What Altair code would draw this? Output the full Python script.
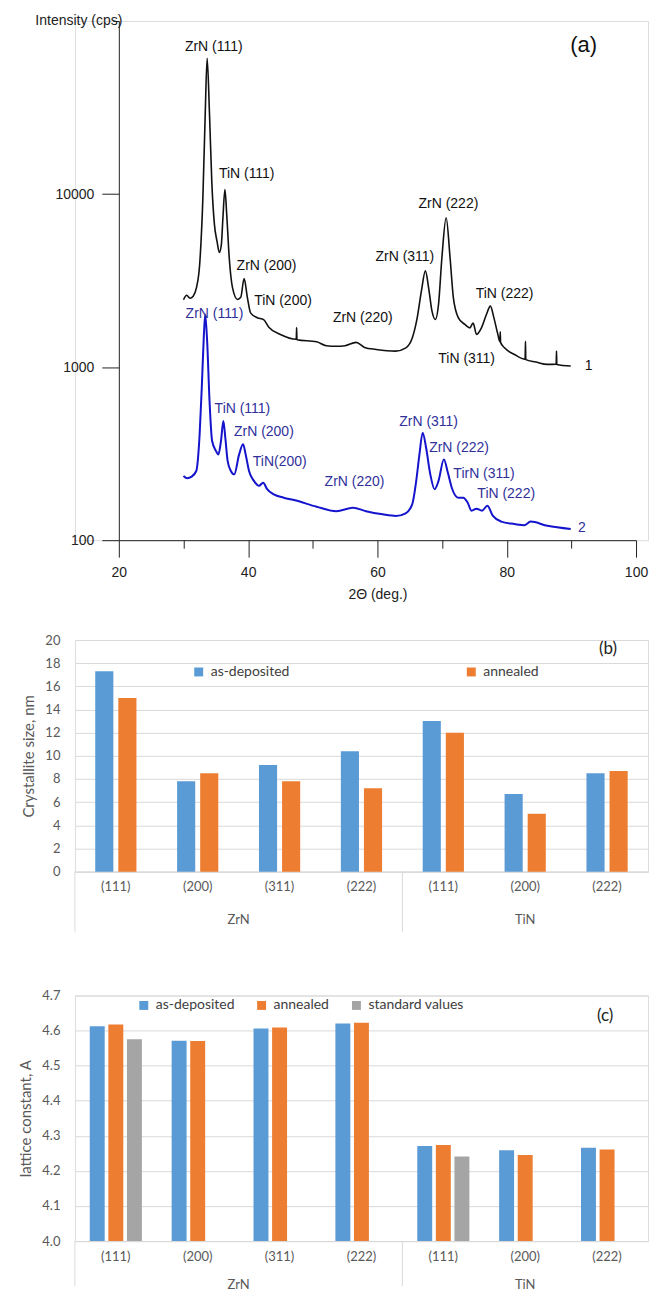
import altair as alt
import pandas as pd

# ---------------- Panel (a): XRD patterns ----------------
theta_1 = [30.0, 30.5, 31.0, 31.5, 32.0, 32.5, 33.0, 33.36, 33.66, 34.03, 34.38, 34.79, 35.19, 35.55,
           35.86, 36.1, 36.41, 36.72, 37.08, 37.59, 38.36, 38.86, 39.38, 39.88, 40.4, 41.4, 42.4, 43.2,
           45.0, 47.45, 47.5, 47.55, 50.6, 52.1, 53.65, 55.0, 56.7, 58.0, 59.8, 62.8, 64.4, 65.4, 66.15,
           66.8, 67.42, 67.92, 68.44, 68.95, 69.45, 69.97, 70.63, 71.24, 71.75, 72.52, 73.54, 74.3, 74.8,
           75.33, 76.09, 76.86, 77.47, 78.02, 78.63, 78.95, 79.0, 79.05, 79.66, 81.2, 82.85, 82.9, 82.95,
           84.5, 86.3, 87.65, 87.7, 87.75, 89.9]
inten_1 = [2450, 2600, 2500, 2570, 2870, 3900, 9500, 28700, 60900, 28700, 11800, 6660, 5330, 4600,
           5100, 7270, 10600, 7270, 4270, 2870, 2460, 2530, 3250, 2530, 2050, 1930, 1880, 1700,
           1545, 1450, 1690, 1440, 1400, 1330, 1320, 1330, 1390, 1300, 1265, 1237, 1292, 1476, 1925,
           2745, 3600, 2870, 2105, 1885, 2300, 4270, 7300, 4270, 2510, 1925, 1763, 1686, 1800,
           1545, 1686, 2015, 2250, 1925, 1545, 1400, 1600, 1390, 1292, 1183, 1110, 1410, 1105,
           1070, 1037, 1040, 1240, 1035, 1014]

theta_2 = [30.0, 30.6, 31.2, 31.98, 32.5, 32.85, 33.16, 33.36, 33.66, 34.03, 34.43, 35.04, 35.4, 35.8,
           36.17, 36.47, 36.83, 37.33, 37.85, 38.61, 39.22, 39.62, 40.14, 40.9, 41.67, 42.33, 42.94,
           43.97, 45.5, 47.27, 50.6, 53.65, 56.2, 58.24, 60.8, 62.83, 64.36, 65.38, 66.0, 66.5, 67.0,
           67.53, 68.18, 68.85, 69.45, 70.28, 70.9, 71.5, 72.52, 73.28, 73.95, 74.56, 75.33, 76.18,
           77.0, 77.87, 79.15, 81.2, 82.7, 83.7, 86.3, 89.9]
inten_2 = [235, 228, 232, 251, 409, 794, 1545, 2015, 1413, 636, 374, 327, 313, 374,
           488, 391, 287, 251, 240, 313, 358, 313, 251, 220, 206, 215, 197,
           184, 176, 170, 156, 147, 154, 147, 141, 138, 143, 161, 220, 313, 418,
           342, 240, 197, 220, 293, 245, 201, 176, 176, 165, 148, 152, 148,
           158, 138, 128, 124, 122, 128, 121, 116]

lab1_text = ["ZrN (111)", "TiN (111)", "ZrN (200)", "TiN (200)", "ZrN (220)", "ZrN (311)",
             "ZrN (222)", "TiN (222)", "TiN (311)", "1"]
lab1_theta = [34.68, 39.78, 42.84, 45.39, 57.74, 64.25, 70.98, 79.66, 73.80, 92.66]
lab1_int = [71200, 13050, 3825, 2404, 1910, 4313, 8807, 2628, 1108, 1014]

lab2_text = ["ZrN (111)", "TiN (111)", "ZrN (200)", "TiN(200)", "ZrN (220)", "ZrN (311)",
             "ZrN (222)", "TirN (311)", "TiN (222)", "2"]
lab2_theta = [34.79, 39.12, 42.44, 44.89, 56.45, 67.92, 72.62, 76.49, 79.92, 91.63]
lab2_int = [2014, 574, 423, 283, 217, 483, 342, 242, 184, 118]

# ---------------- Panel (b): crystallite size ----------------
hkl = ["(111)", "(200)", "(311)", "(222)", "(111)", "(200)", "(222)"]
phase = ["ZrN", "ZrN", "ZrN", "ZrN", "TiN", "TiN", "TiN"]
size_asdep = [17.3, 7.8, 9.2, 10.4, 13.0, 6.7, 8.5]
size_annealed = [15.0, 8.5, 7.8, 7.2, 12.0, 5.0, 8.7]

# ---------------- Panel (c): lattice constant ----------------
lat_asdep = [4.612, 4.571, 4.606, 4.620, 4.271, 4.259, 4.266]
lat_annealed = [4.617, 4.570, 4.609, 4.622, 4.274, 4.245, 4.261]
std_hkl_index = [0, 4]
std_values = [4.575, 4.241]

series_b = ["as-deposited", "annealed"]
series_c = ["as-deposited", "annealed", "standard values"]
colors = ["#5B9BD5", "#ED7D31", "#A5A5A5"]

FA = "Liberation Sans"
FX = "Lato"
GRAY = "#595959"

keys = [f"{p}|{h}" for p, h in zip(phase, hkl)]

# ---------- chart (a) ----------
W, HA = 574, 520
AX0, AX1 = 44, 562   # pixel range of the 2-theta axis inside the panel
df1 = pd.DataFrame({"theta": theta_1, "intensity": inten_1})
df2 = pd.DataFrame({"theta": theta_2, "intensity": inten_2})

xa = alt.X("theta:Q", scale=alt.Scale(domain=[20, 100], range=[AX0, AX1], nice=False),
           axis=alt.Axis(values=list(range(20, 101, 10)),
                         labelExpr="datum.value % 20 == 0 ? datum.label : ''",
                         tickSize={"condition": {"test": "datum.value % 20 != 0", "value": 8}, "value": 17},
                         title="2Θ (deg.)", titleFont=FA, titleFontSize=14, titleFontWeight="normal",
                         titleColor="#222", titlePadding=8, labelFont=FA, labelFontSize=14,
                         labelColor="#222", labelPadding=8, domainColor="#222", tickColor="#222",
                         grid=False, labelFlush=False))
ya = alt.Y("intensity:Q", scale=alt.Scale(type="log", domain=[100, 100000], nice=False),
           axis=alt.Axis(values=[100, 1000, 10000, 100000], offset=-AX0,
                         labelExpr="datum.value == 100000 ? 'Intensity (cps)' : format(datum.value, 'd')",
                         tickSize={"condition": {"test": "datum.value == 100000", "value": 6}, "value": 17},
                         labelPadding={"condition": {"test": "datum.value == 100000", "value": -9}, "value": 8},
                         title=None, labelFont=FA, labelFontSize=14, labelColor="#222",
                         domainColor="#222", tickColor="#222", grid=False, labelFlush=False))

line1 = alt.Chart(df1).mark_line(color="#111111", strokeWidth=1.6, interpolate="monotone").encode(x=xa, y=ya)
line2 = alt.Chart(df2).mark_line(color="#1414cc", strokeWidth=2, interpolate="monotone").encode(x=xa, y=ya)

t1 = alt.Chart(pd.DataFrame({"theta": lab1_theta, "intensity": lab1_int, "t": lab1_text})).mark_text(
    font=FA, fontSize=14, color="#111111").encode(x=xa, y=ya, text="t:N")
t2 = alt.Chart(pd.DataFrame({"theta": lab2_theta, "intensity": lab2_int, "t": lab2_text})).mark_text(
    font=FA, fontSize=14, color="#30309a").encode(x=xa, y=ya, text="t:N")
ta = alt.Chart(pd.DataFrame({"theta": [91.9], "intensity": [72800], "t": ["(a)"]})).mark_text(
    font=FA, fontSize=22, color="#111111").encode(x=xa, y=ya, text="t:N")

chart_a = alt.layer(line1, line2, t1, t2, ta).properties(width=W, height=HA)


# ---------- bar chart builder ----------
def bar_panel(values, series, ytitle, ydomain, yvalues, yfmt, W, H, pin, pout,
              legend_x, legend_y, legend_pad, tag, tag_x, tag_y, grp_dy, sep_len):
    df = pd.DataFrame(values)

    def xenc(bp=None):
        kw = {}
        if bp is not None:
            kw["bandPosition"] = bp
        return alt.X("key:N", sort=keys, scale=alt.Scale(paddingInner=0, paddingOuter=0),
                     axis=alt.Axis(title=None, labelExpr="split(datum.value, '|')[1]", ticks=False,
                                   labelAngle=0, domainColor="#D9D9D9", labelColor=GRAY, labelFont=FX,
                                   labelFontSize=13, labelPadding=9, grid=False),
                     **kw)

    bars = alt.Chart(df).mark_bar().encode(
        x=xenc(),
        xOffset=alt.XOffset("series:N", sort=series,
                            scale=alt.Scale(domain=series, paddingInner=pin, paddingOuter=pout)),
        y=alt.Y("value:Q", scale=alt.Scale(domain=ydomain, nice=False, zero=False),
                axis=alt.Axis(values=yvalues, format=yfmt, grid=True, gridColor="#D9D9D9",
                              domain=False, ticks=False, labelPadding=15, labelFont=FX,
                              labelFontSize=13, labelColor=GRAY, title=ytitle, titleFont=FX,
                              titleFontSize=15, titleFontWeight="normal", titleColor=GRAY,
                              minExtent=30, titlePadding=8)),
        y2=alt.datum(ydomain[0]),
        color=alt.Color("series:N", sort=series,
                        scale=alt.Scale(domain=series, range=colors[:len(series)]),
                        legend=alt.Legend(orient="none", legendX=legend_x, legendY=legend_y,
                                          direction="horizontal", title=None, symbolType="square",
                                          symbolSize=80, symbolStrokeWidth=0, labelFont=FX,
                                          labelFontSize=14, labelColor="#404040",
                                          columnPadding=legend_pad, labelOffset=5)),
    )
    seps = alt.Chart(pd.DataFrame({"key": ["ZrN|(111)", "TiN|(111)"]})).mark_rule(
        color="#D9D9D9", strokeWidth=1).encode(x=xenc(0), y=alt.value(H), y2=alt.value(H + sep_len))
    g_zr = alt.Chart(pd.DataFrame({"key": ["ZrN|(200)"], "g": ["ZrN"]})).mark_text(
        font=FX, fontSize=13, color=GRAY).encode(x=xenc(1), y=alt.value(H + grp_dy), text="g:N")
    g_ti = alt.Chart(pd.DataFrame({"key": ["TiN|(200)"], "g": ["TiN"]})).mark_text(
        font=FX, fontSize=13, color=GRAY).encode(x=xenc(0.5), y=alt.value(H + grp_dy), text="g:N")
    tg = alt.Chart(pd.DataFrame({"t": [tag]})).mark_text(
        font=FX, fontSize=17, color="#222222").encode(x=alt.value(tag_x), y=alt.value(tag_y), text="t:N")
    return alt.layer(bars, seps, g_zr, g_ti, tg).properties(width=W, height=H)


rows_b = {"key": [], "series": [], "value": []}
for k, a, b in zip(keys, size_asdep, size_annealed):
    rows_b["key"] += [k, k]
    rows_b["series"] += ["as-deposited", "annealed"]
    rows_b["value"] += [a, b]

rows_c = {"key": [], "series": [], "value": []}
for i, (k, a, b) in enumerate(zip(keys, lat_asdep, lat_annealed)):
    rows_c["key"] += [k, k]
    rows_c["series"] += ["as-deposited", "annealed"]
    rows_c["value"] += [a, b]
    if i in std_hkl_index:
        rows_c["key"].append(k)
        rows_c["series"].append("standard values")
        rows_c["value"].append(std_values[std_hkl_index.index(i)])

chart_b = bar_panel(rows_b, series_b, "Crystallite size, nm", [0, 20], list(range(0, 21, 2)), "d",
                    W, 232, 0.215, 0.88, 117, 25, 175, "(b)", 534, 9, 48, 60)
chart_c = bar_panel(rows_c, series_c, "lattice constant, A", [4.0, 4.7],
                    [4.0, 4.1, 4.2, 4.3, 4.4, 4.5, 4.6, 4.7], ".1f",
                    W, 246, 0.196, 0.8, 62, 3, 20, "(c)", 531, 21, 44, 45)

bottom = alt.vconcat(chart_b, chart_c, spacing=56).resolve_scale(
    color="independent", x="independent", xOffset="independent", y="independent")
chart = alt.vconcat(chart_a, bottom, spacing=31).resolve_scale(
    color="independent", x="independent", y="independent").properties(
    padding={"left": 10, "top": 4, "right": 0, "bottom": 0}
).configure_view(strokeWidth=0).configure(background="white")

chart.save("out.html", embed_options={"renderer": "svg", "actions": False})
